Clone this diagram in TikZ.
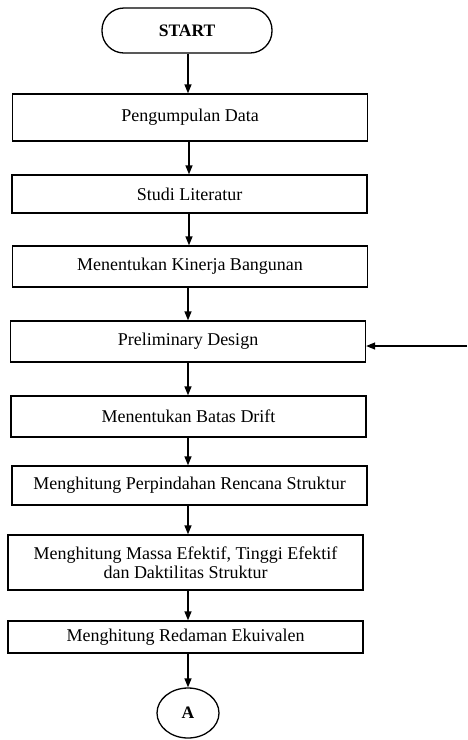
\documentclass[tikz,border=0pt]{standalone}
\usepackage{fontspec}
\setmainfont{Liberation Serif}
\usetikzlibrary{arrows.meta,shapes.geometric}
\begin{document}
\begin{tikzpicture}[x=1pt,y=-1pt,
  every node/.style={font=\fontsize{18}{20.5}\selectfont, inner sep=0pt},
  procbox/.style={draw, line width=1.3pt, rectangle, minimum width=355pt, align=center},
  termbox/.style={draw, line width=1.3pt, rectangle, rounded corners=22pt, minimum width=170pt, minimum height=45pt, font=\fontsize{17.5}{20}\selectfont\bfseries},
  connbox/.style={draw, line width=1.3pt, ellipse, minimum width=62pt, minimum height=50pt, font=\fontsize{17.5}{20}\selectfont\bfseries},
  arr/.style={line width=1.3pt, -{Triangle[length=9pt,width=7pt]}}]
\useasboundingbox (0,0) rectangle (467,740);
\fill[white] (0,0) rectangle (467,740);
\node[termbox] (start) at (187,30.5) {START};
\node[procbox, minimum height=47pt] (p1) at (190,117.5) {Pengumpulan Data};
\node[procbox, minimum height=38pt] (p2) at (189.5,194) {Studi Literatur};
\node[procbox, minimum height=41pt] (p3) at (190,266.5) {Menentukan Kinerja Bangunan};
\node[procbox, minimum height=41pt] (p4) at (188,341.5) {Preliminary Design};
\node[procbox, minimum height=41pt] (p5) at (188.5,416.5) {Menentukan Batas Drift};
\node[procbox, minimum height=39pt] (p6) at (189.5,485.5) {Menghitung Perpindahan Rencana Struktur};
\node[procbox, minimum height=55pt] (p7) at (185.5,562.5) {Menghitung Massa Efektif, Tinggi Efektif\\[-1pt]dan Daktilitas Struktur};
\node[procbox, minimum height=32pt] (p8) at (185.5,637) {Menghitung Redaman Ekuivalen};
\node[connbox] (a) at (188,713) {A};
\coordinate (sp) at (188,0);
\coordinate (sq) at (189,0);
\coordinate (fb) at (467,346);
\draw[arr] (start.south -| sp) -- (p1.north -| sp);
\draw[arr] (p1.south -| sq) -- (p2.north -| sq);
\draw[arr] (p2.south -| sq) -- (p3.north -| sq);
\draw[arr] (p3.south -| sp) -- (p4.north -| sp);
\draw[arr] (p4.south -| sp) -- (p5.north -| sp);
\draw[arr] (p5.south -| sp) -- (p6.north -| sp);
\draw[arr] (p6.south -| sp) -- (p7.north -| sp);
\draw[arr] (p7.south -| sp) -- (p8.north -| sp);
\draw[arr] (p8.south -| sp) -- (a.north);
\draw[arr] (fb) -- (fb -| p4.east);
\end{tikzpicture}
\end{document}
